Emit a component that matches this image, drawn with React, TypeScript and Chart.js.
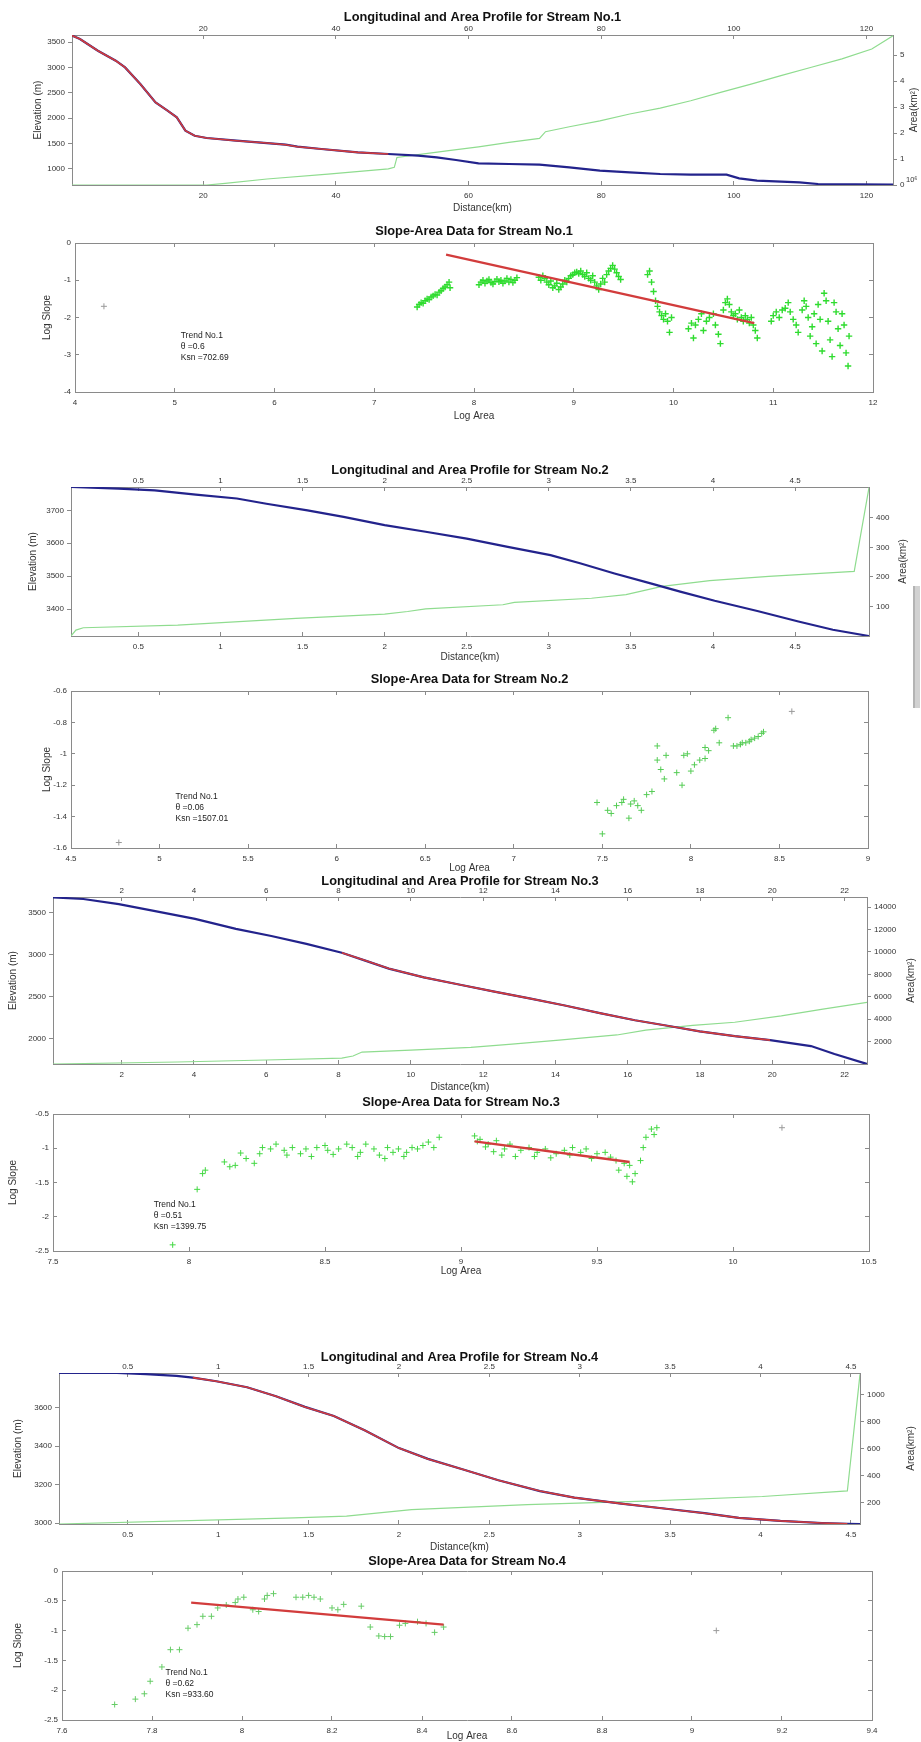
import React, { useEffect, useRef } from 'react';
import { Chart, registerables } from 'chart.js';

Chart.register(...registerables);

const FONT = '"Liberation Sans", Arial, Helvetica, sans-serif';
const W = 921;
const BLUE = '#23238c';
const RED = '#d23c3c';
const AREA_GREEN = '#8fdc8f';
const PT_GREEN = '#2fdc2f';
const GRAY_PT = '#9a9a9a';
const AXIS = '#8a8a8a';
const TICK = '#333333';
const LABEL = '#333333';

// ---------------- Stream No.1 : profile ----------------
const p1Dist = [0.2, 1.4, 4.1, 6.8, 8.2, 10.5, 12.8, 14.6, 16.0, 17.3, 18.7, 20.5, 25.0, 29.6, 32.4, 34.2, 37.8, 43.3, 47.9, 52.4, 55.2, 58.1, 61.5, 66.1, 70.7, 75.2, 79.8, 84.3, 88.9, 93.5, 98.9, 100.8, 103.5, 109.9, 112.7, 124.0];
const p1Elev = [3630, 3560, 3330, 3133, 3001, 2673, 2312, 2148, 2017, 1754, 1655, 1610, 1557, 1511, 1478, 1439, 1393, 1327, 1295, 1262, 1229, 1177, 1111, 1098, 1085, 1032, 966, 934, 901, 888, 888, 816, 770, 737, 704, 690];
const p1TrendSpan = [0.2, 47.9];
const p1AreaDist = [0.2, 20.5, 23.3, 29.6, 38.8, 47.9, 48.8, 49.2, 52.4, 57.0, 61.5, 66.1, 70.7, 71.6, 75.2, 79.8, 84.3, 88.9, 93.5, 98.0, 102.6, 107.1, 111.7, 116.3, 120.8, 124.0];
const p1Area = [0, 0, 0.06, 0.23, 0.42, 0.62, 0.68, 1.06, 1.17, 1.32, 1.47, 1.64, 1.79, 2.05, 2.24, 2.47, 2.73, 2.96, 3.24, 3.56, 3.88, 4.21, 4.53, 4.85, 5.23, 5.74];
const p1DistTicks = [20, 40, 60, 80, 100, 120];
const p1ElevTicks = [1000, 1500, 2000, 2500, 3000, 3500];
const p1AreaTicks = [0, 1, 2, 3, 4, 5];

// ---------------- Stream No.1 : slope-area ----------------
const s1LogA = [
  7.43, 7.45, 7.47, 7.49, 7.51, 7.53, 7.55, 7.57, 7.59, 7.61, 7.63, 7.65, 7.67, 7.69, 7.71, 7.73, 7.75, 7.76,
  8.05, 8.07, 8.09, 8.11, 8.13, 8.15, 8.17, 8.19, 8.21, 8.23, 8.25, 8.27, 8.29, 8.31, 8.33, 8.35, 8.37, 8.39, 8.41, 8.43,
  8.65, 8.67, 8.69, 8.71, 8.73, 8.75, 8.77, 8.79, 8.81, 8.83, 8.85, 8.87, 8.89, 8.91, 8.93,
  8.95, 8.97, 8.99, 9.01, 9.03, 9.05, 9.07, 9.09, 9.11, 9.13, 9.15, 9.17, 9.19,
  9.21, 9.23, 9.25, 9.27, 9.29, 9.31, 9.33, 9.35, 9.37, 9.39, 9.41, 9.43, 9.45, 9.47,
  9.74, 9.76, 9.78, 9.80, 9.82, 9.84, 9.86, 9.88, 9.90, 9.92, 9.94, 9.96, 9.98,
  10.15, 10.18, 10.20, 10.22, 10.25, 10.28, 10.30, 10.33, 10.36, 10.40, 10.42, 10.45, 10.47,
  10.50, 10.52, 10.54, 10.56, 10.58, 10.60, 10.62, 10.64, 10.66, 10.68, 10.70, 10.72, 10.74, 10.76, 10.78, 10.80, 10.82, 10.84,
  10.98, 11.00, 11.03, 11.06, 11.09, 11.12, 11.15, 11.17, 11.20, 11.23, 11.25,
  11.29, 11.31, 11.33, 11.35, 11.37, 11.39, 11.41, 11.43, 11.45, 11.47, 11.49, 11.51, 11.53, 11.55, 11.57, 11.59, 11.61, 11.63, 11.65, 11.67, 11.69, 11.71, 11.73, 11.75, 11.76,
];
const s1Slope = [
  -1.72, -1.65, -1.60, -1.62, -1.55, -1.50, -1.52, -1.45, -1.42, -1.38, -1.40, -1.32, -1.28, -1.22, -1.18, -1.12, -1.05, -1.20,
  -1.12, -1.05, -1.00, -1.08, -1.02, -0.98, -1.06, -1.10, -1.03, -0.97, -1.04, -1.00, -1.08, -1.02, -0.95, -1.05, -0.98, -1.06, -1.00, -0.93,
  -0.92, -1.00, -0.88, -0.95, -1.05, -1.12, -1.02, -1.20, -1.15, -1.08, -1.25, -1.18, -1.10, -1.00, -1.05,
  -0.95, -0.88, -0.85, -0.80, -0.78, -0.82, -0.75, -0.85, -0.90, -0.80, -0.95, -1.00, -0.88,
  -1.05, -1.15, -1.25, -1.10, -0.95, -1.05, -0.85, -0.75, -0.68, -0.60, -0.70, -0.80, -0.90, -0.98,
  -0.85, -0.75, -1.05, -1.30, -1.55, -1.70, -1.85, -1.95, -2.05, -1.90, -2.10, -2.40, -2.00,
  -2.30, -2.15, -2.55, -2.20, -2.05, -1.90, -2.35, -2.10, -2.00, -1.90, -2.20, -2.45, -2.70,
  -1.80, -1.60, -1.50, -1.65, -1.85, -1.95, -1.90, -2.05, -1.80, -2.00, -2.10, -1.95, -2.05, -2.15, -2.00, -2.20, -2.35, -2.55,
  -2.10, -1.95, -1.85, -2.00, -1.80, -1.75, -1.60, -1.85, -2.05, -2.20, -2.40,
  -1.80, -1.55, -1.70, -2.00, -2.50, -2.25, -1.90, -2.70, -1.65, -2.05, -2.90, -1.35, -1.55, -2.10, -2.60, -3.05, -1.60, -1.85, -2.30, -2.75, -1.90, -2.20, -2.95, -3.30, -2.50,
];
const s1OutA = [4.29];
const s1OutS = [-1.70];
const s1TrendA = [7.72, 10.81];
const s1TrendS = [-0.31, -2.15];
const s1ATicks = [4, 5, 6, 7, 8, 9, 10, 11, 12];
const s1STicks = [-4, -3, -2, -1, 0];

// ---------------- Stream No.2 : profile ----------------
const p2Dist = [0.09, 0.38, 0.60, 0.85, 1.10, 1.28, 1.53, 1.75, 2.00, 2.25, 2.50, 2.75, 3.01, 3.19, 3.40, 3.62, 3.80, 4.01, 4.27, 4.52, 4.73, 4.95];
const p2Elev = [3771, 3766, 3761, 3748, 3736, 3720, 3700, 3680, 3655, 3635, 3614, 3589, 3564, 3539, 3508, 3478, 3453, 3425, 3394, 3362, 3337, 3318];
const p2AreaDist = [0.09, 0.12, 0.165, 0.74, 1.46, 2.0, 2.14, 2.25, 2.72, 2.79, 3.26, 3.47, 3.69, 3.98, 4.34, 4.86, 4.95];
const p2Area = [0, 20, 28, 37, 60, 74, 83, 92, 106, 114, 128, 140, 168, 188, 202, 219, 503];
const p2DistTicks = [0.5, 1, 1.5, 2, 2.5, 3, 3.5, 4, 4.5];
const p2ElevTicks = [3400, 3500, 3600, 3700];
const p2AreaTicks = [100, 200, 300, 400];

// ---------------- Stream No.2 : slope-area ----------------
const s2LogA = [7.47, 7.50, 7.53, 7.55, 7.58, 7.61, 7.62, 7.65, 7.66, 7.68, 7.70, 7.72, 7.75, 7.78, 7.81, 7.83, 7.81, 7.86, 7.85, 7.92, 7.95, 7.96, 7.98, 8.00, 8.02, 8.05, 8.08, 8.08, 8.10, 8.13, 8.14, 8.16, 8.21, 8.24, 8.26, 8.28, 8.29, 8.31, 8.33, 8.34, 8.36, 8.38, 8.40, 8.41];
const s2Slope = [-1.31, -1.51, -1.36, -1.38, -1.33, -1.31, -1.29, -1.41, -1.32, -1.30, -1.33, -1.36, -1.26, -1.24, -1.04, -1.10, -0.95, -1.01, -1.16, -1.12, -1.20, -1.01, -1.00, -1.11, -1.07, -1.04, -0.96, -1.03, -0.98, -0.85, -0.84, -0.93, -0.77, -0.95, -0.95, -0.94, -0.93, -0.93, -0.92, -0.91, -0.90, -0.89, -0.87, -0.86];
const s2OutA = [4.77, 8.57];
const s2OutS = [-1.565, -0.73];
const s2ATicks = [4.5, 5, 5.5, 6, 6.5, 7, 7.5, 8, 8.5, 9];
const s2STicks = [-1.6, -1.4, -1.2, -1, -0.8, -0.6];

// ---------------- Stream No.3 : profile ----------------
const p3Dist = [0.1, 0.94, 1.92, 2.89, 4.03, 5.16, 6.14, 7.11, 8.09, 8.74, 9.39, 10.36, 11.33, 12.31, 13.28, 14.26, 15.23, 16.2, 17.18, 17.99, 18.96, 19.94, 21.07, 21.72, 22.62];
const p3Elev = [3680, 3661, 3600, 3520, 3425, 3307, 3222, 3127, 3023, 2929, 2834, 2730, 2645, 2560, 2480, 2395, 2305, 2220, 2149, 2088, 2031, 1984, 1913, 1818, 1700];
const p3TrendSpan = [8.09, 19.94];
const p3AreaDist = [0.1, 3.54, 6.0, 8.09, 8.4, 8.65, 10.0, 11.66, 12.8, 14.1, 15.7, 16.5, 17.8, 18.96, 20.25, 21.4, 22.62];
const p3Area = [0, 180, 355, 530, 710, 1065, 1240, 1490, 1775, 2130, 2590, 3015, 3440, 3725, 4300, 4900, 5500];
const p3DistTicks = [2, 4, 6, 8, 10, 12, 14, 16, 18, 20, 22];
const p3ElevTicks = [2000, 2500, 3000, 3500];
const p3AreaTicks = [2000, 4000, 6000, 8000, 10000, 12000, 14000];

// ---------------- Stream No.3 : slope-area ----------------
const s3LogA = [
  7.94, 8.03, 8.05, 8.06, 8.13, 8.15, 8.17, 8.19, 8.21, 8.24, 8.26, 8.27, 8.30, 8.32, 8.35, 8.36, 8.38, 8.41, 8.43, 8.45, 8.47, 8.50, 8.51, 8.53, 8.55, 8.58, 8.60, 8.62, 8.63, 8.65, 8.68, 8.70, 8.72, 8.73, 8.75, 8.77, 8.79, 8.80, 8.82, 8.84, 8.86, 8.88, 8.90, 8.92,
  9.05, 9.06, 9.07, 9.09, 9.10, 9.12, 9.13, 9.15, 9.16, 9.18, 9.20, 9.22, 9.25, 9.27, 9.28, 9.31, 9.33, 9.35, 9.38, 9.40, 9.41, 9.44, 9.46, 9.48, 9.50, 9.53, 9.55, 9.57, 9.58, 9.60, 9.61, 9.62, 9.63, 9.64, 9.66, 9.67, 9.68, 9.70, 9.71, 9.72,
];
const s3Slope = [
  -2.41, -1.60, -1.37, -1.32, -1.20, -1.27, -1.25, -1.07, -1.15, -1.22, -1.08, -0.99, -1.01, -0.94, -1.03, -1.10, -0.99, -1.08, -1.01, -1.12, -0.99, -0.96, -1.03, -1.09, -1.01, -0.94, -0.99, -1.12, -1.06, -0.94, -1.01, -1.10, -1.15, -0.99, -1.06, -1.01, -1.12, -1.06, -0.99, -1.01, -0.96, -0.91, -0.99, -0.84,
  -0.82, -0.90, -0.87, -0.98, -0.94, -1.05, -0.89, -1.10, -1.01, -0.94, -1.12, -1.03, -0.99, -1.12, -1.06, -1.01, -1.14, -1.08, -1.03, -1.10, -0.99, -1.06, -1.01, -1.15, -1.08, -1.06, -1.13, -1.18, -1.32, -1.22, -1.41, -1.25, -1.49, -1.37, -1.18, -0.99, -0.84, -0.72, -0.80, -0.70,
];
const s3OutA = [10.18];
const s3OutS = [-0.70];
const s3TrendA = [9.05, 9.62];
const s3TrendS = [-0.90, -1.20];
const s3ATicks = [7.5, 8, 8.5, 9, 9.5, 10, 10.5];
const s3STicks = [-2.5, -2, -1.5, -1, -0.5];

// ---------------- Stream No.4 : profile ----------------
const p4Dist = [0.12, 0.44, 0.60, 0.77, 0.86, 0.99, 1.16, 1.32, 1.48, 1.64, 1.81, 2.0, 2.16, 2.36, 2.55, 2.78, 2.97, 3.23, 3.49, 3.69, 3.88, 4.11, 4.34, 4.48, 4.55];
const p4Elev = [3780, 3780, 3774, 3765, 3756, 3737, 3706, 3659, 3604, 3557, 3483, 3390, 3334, 3278, 3223, 3167, 3133, 3102, 3074, 3052, 3028, 3012, 3001, 2997, 2996];
const p4TrendSpan = [0.86, 4.48];
const p4AreaDist = [0.12, 1.42, 1.71, 2.07, 2.71, 3.36, 4.01, 4.48, 4.55];
const p4Area = [40, 85, 98, 146, 183, 210, 244, 285, 1150];
const p4DistTicks = [0.5, 1, 1.5, 2, 2.5, 3, 3.5, 4, 4.5];
const p4ElevTicks = [3000, 3200, 3400, 3600];
const p4AreaTicks = [200, 400, 600, 800, 1000];

// ---------------- Stream No.4 : slope-area ----------------
const s4LogA = [7.717, 7.763, 7.783, 7.796, 7.822, 7.841, 7.861, 7.880, 7.900, 7.913, 7.932, 7.946, 7.965, 7.985, 7.991, 8.004, 8.024, 8.037, 8.050, 8.056, 8.070, 8.120, 8.135, 8.148, 8.160, 8.174, 8.200, 8.213, 8.226, 8.265, 8.285, 8.304, 8.317, 8.330, 8.350, 8.363, 8.390, 8.409, 8.428, 8.448];
const s4Slope = [-2.24, -2.15, -2.06, -1.85, -1.61, -1.32, -1.32, -0.96, -0.90, -0.76, -0.76, -0.62, -0.57, -0.53, -0.47, -0.44, -0.65, -0.68, -0.47, -0.41, -0.38, -0.44, -0.44, -0.41, -0.44, -0.47, -0.62, -0.65, -0.56, -0.59, -0.94, -1.09, -1.10, -1.10, -0.91, -0.88, -0.85, -0.88, -1.03, -0.94];
const s4OutA = [9.054];
const s4OutS = [-1.00];
const s4TrendA = [7.887, 8.448];
const s4TrendS = [-0.53, -0.90];
const s4ATicks = [7.6, 7.8, 8, 8.2, 8.4, 8.6, 8.8, 9, 9.2, 9.4];
const s4STicks = [-2.5, -2, -1.5, -1, -0.5, 0];

// ---------------- helpers ----------------
const fmt = (v: number) => String(Math.round(v * 1000) / 1000);
const pts = (xs: number[], ys: number[]) => xs.map((x, i) => ({ x, y: ys[i] }));
const span = (xs: number[], ys: number[], s: number[]) => pts(xs, ys).filter((p) => p.x >= s[0] && p.x <= s[1]);

const lineDs = (data: any[], color: string, width: number, yAxisID = 'y') => ({
  data, showLine: true, borderColor: color, backgroundColor: color, borderWidth: width,
  pointRadius: 0, fill: false, tension: 0, xAxisID: 'x', yAxisID,
});
const dotDs = (data: any[], color: string, r = 3, bw = 1) => ({
  data, showLine: false, pointStyle: 'cross', pointRadius: r, pointBorderColor: color,
  pointBackgroundColor: color, pointBorderWidth: bw, borderColor: color, backgroundColor: color,
  xAxisID: 'x', yAxisID: 'y',
});

const annotPlugin = {
  id: 'annot',
  afterDraw(chart: any, _args: any, o: any) {
    const { ctx, chartArea: a } = chart;
    ctx.save();
    ctx.fillStyle = '#111';
    ctx.font = `bold 12.8px ${FONT}`;
    ctx.textAlign = 'center';
    ctx.textBaseline = 'middle';
    ctx.fillText(o.title, (a.left + a.right) / 2, o.titleY);
    if (o.rightTitle) {
      ctx.save();
      ctx.translate(o.rightTitleX, (a.top + a.bottom) / 2);
      ctx.rotate(-Math.PI / 2);
      ctx.font = `10px ${FONT}`;
      ctx.fillStyle = LABEL;
      ctx.fillText(o.rightTitle, 0, 0);
      ctx.restore();
    }
    if (o.exponent) {
      ctx.font = `7.5px ${FONT}`;
      ctx.textAlign = 'left';
      ctx.fillStyle = TICK;
      ctx.fillText(o.exponent, a.right + 13, a.bottom - 5);
    }
    if (o.notes) {
      const sx = chart.scales.x;
      const sy = chart.scales.y;
      ctx.font = `8.5px ${FONT}`;
      ctx.textAlign = 'left';
      ctx.fillStyle = '#222';
      const px = sx.getPixelForValue(o.notes.x);
      const py = sy.getPixelForValue(o.notes.y);
      o.notes.lines.forEach((t: string, i: number) => ctx.fillText(t, px, py + i * 11));
    }
    ctx.restore();
  },
};

function buildConfig(s: any) {
  const H = s.height;
  const pl = s.plot.l;
  const pr = s.plot.r;
  const pt = s.plot.t - s.top;
  const pb = s.plot.b - s.top;
  const profile = !!s.y2;
  const tickFont = { family: FONT, size: 8 };
  const mk = (pos: string, min: number, max: number, ticks: number[], labels: boolean, tickLen: number, padding: number, size: number, extra: any = {}) => ({
    type: 'linear', position: pos, min, max, bounds: 'data',
    grid: { display: true, drawOnChartArea: false, drawTicks: true, tickLength: tickLen, color: AXIS, lineWidth: 1 },
    border: { display: true, color: AXIS, width: 1 },
    ticks: {
      display: labels, autoSkip: false, maxRotation: 0, minRotation: 0, font: tickFont, color: TICK, padding,
      callback: (v: number) => fmt(v),
    },
    afterBuildTicks: (ax: any) => { ax.ticks = ticks.map((v) => ({ value: v })); },
    afterFit: (ax: any) => { if (pos === 'left' || pos === 'right') ax.width = size; else ax.height = size; },
    ...extra,
  });
  const y2 = s.y2 || { min: s.y.min, max: s.y.max, ticks: s.y.ticks };
  const yLen = profile ? 4 : -4;
  const yPad = profile ? 3 : 8;
  const scales = {
    x: mk('bottom', s.x.min, s.x.max, s.x.ticks, true, -4, 9.7, H - pb, {
      title: { display: true, text: s.x.title, color: LABEL, font: { family: FONT, size: 10 }, padding: { top: 0, bottom: Math.max(0, H - (s.x.titleY - s.top) - 6) } },
    }),
    xTop: mk('top', s.x.min, s.x.max, s.x.ticks, s.x.topLabels, -4, 5.7, pt),
    y: mk('left', s.y.min, s.y.max, s.y.ticks, true, yLen, yPad, pl, {
      title: { display: true, text: s.y.title, color: LABEL, font: { family: FONT, size: 10 }, padding: { top: s.y.titleX - 6, bottom: 0 } },
    }),
    y2: mk('right', y2.min, y2.max, y2.ticks, profile, yLen, yPad, W - pr),
  };
  return {
    type: 'scatter',
    data: { datasets: s.datasets },
    options: {
      responsive: false,
      maintainAspectRatio: false,
      animation: false,
      devicePixelRatio: 1,
      events: [],
      layout: { padding: 0 },
      scales,
      plugins: {
        legend: { display: false },
        tooltip: { enabled: false },
        title: { display: false },
        annot: {
          title: s.title,
          titleY: s.titleY - s.top,
          rightTitle: s.y2 ? s.y2.title : null,
          rightTitleX: s.y2 ? s.y2.titleX : 0,
          exponent: s.y2 ? s.y2.exponent : null,
          notes: s.notes || null,
        },
      },
    },
    plugins: [annotPlugin],
  };
}

const specs: any[] = [
  {
    key: 'p1', top: 0, height: 218, plot: { l: 72, r: 893, t: 35, b: 185 },
    title: 'Longitudinal and Area Profile for Stream No.1', titleY: 17,
    x: { min: 0.2, max: 124, ticks: p1DistTicks, title: 'Distance(km)', titleY: 208, topLabels: true },
    y: { min: 684, max: 3640, ticks: p1ElevTicks, title: 'Elevation (m)', titleX: 38 },
    y2: { min: 0, max: 5.77, ticks: p1AreaTicks, title: 'Area(km²)', titleX: 914, exponent: '10⁶' },
    datasets: [
      lineDs(span(p1Dist, p1Elev, p1TrendSpan), RED, 1.6),
      lineDs(pts(p1Dist, p1Elev), BLUE, 2.2),
      lineDs(pts(p1AreaDist, p1Area), AREA_GREEN, 1.2, 'y2'),
    ],
  },
  {
    key: 's1', top: 218, height: 210, plot: { l: 75, r: 873, t: 243, b: 392 },
    title: 'Slope-Area Data for Stream No.1', titleY: 231,
    x: { min: 4, max: 12, ticks: s1ATicks, title: 'Log Area', titleY: 416, topLabels: false },
    y: { min: -4, max: 0, ticks: s1STicks, title: 'Log Slope', titleX: 47 },
    notes: { x: 5.06, y: -2.48, lines: ['Trend No.1', 'θ =0.6', 'Ksn =702.69'] },
    datasets: [
      lineDs(pts(s1TrendA, s1TrendS), RED, 2.4),
      dotDs(pts(s1LogA, s1Slope), PT_GREEN, 3.2, 1.4),
      dotDs(pts(s1OutA, s1OutS), GRAY_PT, 3, 1),
    ],
  },
  {
    key: 'p2', top: 440, height: 225, plot: { l: 71, r: 869, t: 487, b: 636 },
    title: 'Longitudinal and Area Profile for Stream No.2', titleY: 470,
    x: { min: 0.09, max: 4.95, ticks: p2DistTicks, title: 'Distance(km)', titleY: 657, topLabels: true },
    y: { min: 3318, max: 3771, ticks: p2ElevTicks, title: 'Elevation (m)', titleX: 33 },
    y2: { min: 0, max: 505, ticks: p2AreaTicks, title: 'Area(km²)', titleX: 903 },
    datasets: [
      lineDs(pts(p2Dist, p2Elev), BLUE, 2.2),
      lineDs(pts(p2AreaDist, p2Area), AREA_GREEN, 1.2, 'y2'),
    ],
  },
  {
    key: 's2', top: 660, height: 215, plot: { l: 71, r: 868, t: 691, b: 848 },
    title: 'Slope-Area Data for Stream No.2', titleY: 679,
    x: { min: 4.5, max: 9, ticks: s2ATicks, title: 'Log Area', titleY: 868, topLabels: false },
    y: { min: -1.6, max: -0.6, ticks: s2STicks, title: 'Log Slope', titleX: 47 },
    notes: { x: 5.09, y: -1.27, lines: ['Trend No.1', 'θ =0.06', 'Ksn =1507.01'] },
    datasets: [
      dotDs(pts(s2LogA, s2Slope), '#55cc55', 3, 1),
      dotDs(pts(s2OutA, s2OutS), GRAY_PT, 3, 1),
    ],
  },
  {
    key: 'p3', top: 868, height: 232, plot: { l: 53, r: 867, t: 897, b: 1064 },
    title: 'Longitudinal and Area Profile for Stream No.3', titleY: 881,
    x: { min: 0.1, max: 22.62, ticks: p3DistTicks, title: 'Distance(km)', titleY: 1087, topLabels: true },
    y: { min: 1700, max: 3685, ticks: p3ElevTicks, title: 'Elevation (m)', titleX: 13 },
    y2: { min: 0, max: 14900, ticks: p3AreaTicks, title: 'Area(km²)', titleX: 911 },
    datasets: [
      lineDs(span(p3Dist, p3Elev, p3TrendSpan), RED, 1.6),
      lineDs(pts(p3Dist, p3Elev), BLUE, 2.2),
      lineDs(pts(p3AreaDist, p3Area), AREA_GREEN, 1.2, 'y2'),
    ],
  },
  {
    key: 's3', top: 1090, height: 195, plot: { l: 53, r: 869, t: 1114, b: 1251 },
    title: 'Slope-Area Data for Stream No.3', titleY: 1102,
    x: { min: 7.5, max: 10.5, ticks: s3ATicks, title: 'Log Area', titleY: 1271, topLabels: false },
    y: { min: -2.5, max: -0.5, ticks: s3STicks, title: 'Log Slope', titleX: 13 },
    notes: { x: 7.87, y: -1.82, lines: ['Trend No.1', 'θ =0.51', 'Ksn =1399.75'] },
    datasets: [
      lineDs(pts(s3TrendA, s3TrendS), RED, 2.4),
      dotDs(pts(s3LogA, s3Slope), '#44d844', 3, 1),
      dotDs(pts(s3OutA, s3OutS), GRAY_PT, 3, 1),
    ],
  },
  {
    key: 'p4', top: 1330, height: 225, plot: { l: 59, r: 860, t: 1373, b: 1524 },
    title: 'Longitudinal and Area Profile for Stream No.4', titleY: 1357,
    x: { min: 0.12, max: 4.55, ticks: p4DistTicks, title: 'Distance(km)', titleY: 1547, topLabels: true },
    y: { min: 2996, max: 3780, ticks: p4ElevTicks, title: 'Elevation (m)', titleX: 18 },
    y2: { min: 40, max: 1160, ticks: p4AreaTicks, title: 'Area(km²)', titleX: 911 },
    datasets: [
      lineDs(span(p4Dist, p4Elev, p4TrendSpan), RED, 1.6),
      lineDs(pts(p4Dist, p4Elev), BLUE, 2.2),
      lineDs(pts(p4AreaDist, p4Area), AREA_GREEN, 1.2, 'y2'),
    ],
  },
  {
    key: 's4', top: 1548, height: 194, plot: { l: 62, r: 872, t: 1571, b: 1720 },
    title: 'Slope-Area Data for Stream No.4', titleY: 1561,
    x: { min: 7.6, max: 9.4, ticks: s4ATicks, title: 'Log Area', titleY: 1738, topLabels: false },
    y: { min: -2.5, max: 0, ticks: s4STicks, title: 'Log Slope', titleX: 18 },
    notes: { x: 7.83, y: -1.71, lines: ['Trend No.1', 'θ =0.62', 'Ksn =933.60'] },
    datasets: [
      lineDs(pts(s4TrendA, s4TrendS), RED, 2.4),
      dotDs(pts(s4LogA, s4Slope), '#66cc66', 3, 1),
      dotDs(pts(s4OutA, s4OutS), GRAY_PT, 3, 1),
    ],
  },
];

function Panel({ spec }: { spec: any }) {
  const ref = useRef<HTMLCanvasElement | null>(null);
  useEffect(() => {
    if (!ref.current) return;
    const chart = new Chart(ref.current, buildConfig(spec) as any);
    return () => chart.destroy();
  }, [spec]);
  return (
    <canvas
      ref={ref}
      width={W}
      height={spec.height}
      style={{ position: 'absolute', left: 0, top: spec.top, width: W, height: spec.height }}
    />
  );
}

export default function App() {
  return (
    <div style={{ position: 'absolute', left: 0, top: 0, width: W, height: 1742, background: '#ffffff', overflow: 'hidden' }}>
      {specs.map((s) => (
        <Panel key={s.key} spec={s} />
      ))}
      <div style={{ position: 'absolute', left: 913, top: 586, width: 5, height: 122, background: '#d2d2d2', borderLeft: '2px solid #b4b4b4' }} />
    </div>
  );
}
